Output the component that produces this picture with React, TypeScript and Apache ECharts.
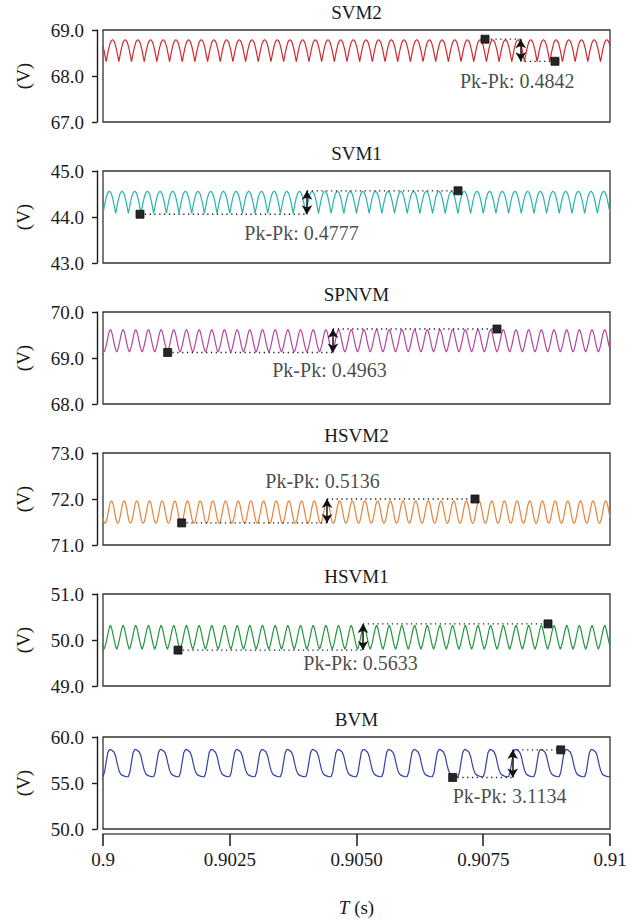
import { useEffect, useRef } from 'react';
import * as echarts from 'echarts';

// ---------- data ----------
const PANEL_TITLES = ['SVM2', 'SVM1', 'SPNVM', 'HSVM2', 'HSVM1', 'BVM'];
const Y_MIN = [67, 43, 68, 71, 49, 50];
const Y_MAX = [69, 45, 70, 73, 51, 60];
const Y_INTERVAL = [1, 1, 1, 1, 1, 5];
const LINE_COLORS = ['#d6282e', '#27b5ae', '#b5479f', '#e8843a', '#24963f', '#3040a6'];

const T_START = 0.9;
const T_END = 0.91;
const X_TICK_VALUES = [0.9, 0.9025, 0.905, 0.9075, 0.91];
const X_TICK_LABELS = ['0.9', '0.9025', '0.9050', '0.9075', '0.91'];

const SVM2_CYCLE = [68.65, 68.55, 68.43, 68.31, 68.43, 68.55, 68.65, 68.73, 68.77, 68.79, 68.77, 68.73];
const SVM1_CYCLE = [44.08, 44.2, 44.32, 44.42, 44.5, 44.54, 44.56, 44.54, 44.5, 44.42, 44.32, 44.2];
const SPNVM_CYCLE = [69.18, 69.13, 69.18, 69.27, 69.375, 69.49, 69.58, 69.62, 69.58, 69.49, 69.375, 69.27];
const HSVM2_CYCLE = [71.59, 71.5, 71.47, 71.5, 71.59, 71.715, 71.84, 71.93, 71.96, 71.93, 71.84, 71.715];
const HSVM1_CYCLE = [49.86, 49.8, 49.86, 49.95, 50.06, 50.17, 50.27, 50.32, 50.27, 50.17, 50.06, 49.95];
const BVM_CYCLE = [55.7, 56.2, 57.3, 58.3, 58.62, 58.62, 58.5, 58.35, 57.9, 57.1, 56.4, 56.0, 55.85, 55.78, 55.72, 55.68];
const CYCLES = [SVM2_CYCLE, SVM1_CYCLE, SPNVM_CYCLE, HSVM2_CYCLE, HSVM1_CYCLE, BVM_CYCLE];
const CYCLE_COUNT = [40, 40, 40, 40, 40, 20];

// Pk-Pk cursors
const PK_LABELS = ['Pk-Pk: 0.4842', 'Pk-Pk: 0.4777', 'Pk-Pk: 0.4963', 'Pk-Pk: 0.5136', 'Pk-Pk: 0.5633', 'Pk-Pk: 3.1134'];
const PK_LOW_T = [0.908915, 0.90073, 0.901276, 0.901552, 0.901479, 0.906897];
const PK_LOW_V = [68.32, 44.06, 69.12, 71.48, 49.78, 55.6];
const PK_HIGH_T = [0.907535, 0.907002, 0.907771, 0.907337, 0.908777, 0.909028];
const PK_HIGH_V = [68.8, 44.57, 69.63, 72.0, 50.35, 58.6];
const PK_ARROW_T = [0.908239, 0.904024, 0.904536, 0.904418, 0.905128, 0.908081];
const PK_TEXT_T = [0.90818, 0.903925, 0.904477, 0.904339, 0.905089, 0.908028];
const PK_TEXT_V = [67.89, 43.65, 68.72, 72.38, 49.49, 53.57];

// ---------- layout ----------
const GRID_LEFT = 103;
const GRID_RIGHT = 25;
const GRID_TOPS = [30, 171, 312, 453, 594, 737];
const GRID_HEIGHT = 92;
const FONT = '"Liberation Serif", "Times New Roman", serif';
const INK = '#1a1a1a';

function buildWave(i: number) {
  const cyc = CYCLES[i];
  const n = cyc.length * CYCLE_COUNT[i];
  const dt = (T_END - T_START) / n;
  const out: number[][] = [];
  for (let j = 0; j <= n; j++) {
    out.push([T_START + j * dt, cyc[j % cyc.length]]);
  }
  return out;
}

export default function App() {
  const ref = useRef<HTMLDivElement>(null);
  useEffect(() => {
    document.body.style.margin = '0';
    if (!ref.current) return;
    const chart = echarts.init(ref.current, null, { renderer: 'svg' });

    const grids: any[] = [];
    const xAxes: any[] = [];
    const yAxes: any[] = [];
    const series: any[] = [];
    const graphics: any[] = [];

    PANEL_TITLES.forEach((title, i) => {
      const last = i === PANEL_TITLES.length - 1;
      grids.push({
        left: GRID_LEFT,
        right: GRID_RIGHT,
        top: GRID_TOPS[i],
        height: GRID_HEIGHT,
        show: true,
        borderColor: '#333',
        borderWidth: 1.3,
        backgroundColor: 'transparent',
      });
      xAxes.push({
        type: 'value',
        gridIndex: i,
        min: T_START,
        max: T_END,
        interval: 0.0025,
        show: last,
        position: 'bottom',
        offset: 5,
        axisLine: { show: true, lineStyle: { color: '#555', width: 1.6 } },
        axisTick: { show: true, inside: false, length: 12, lineStyle: { color: INK, width: 1.5 } },
        splitLine: { show: false },
        axisLabel: {
          show: true,
          margin: 16,
          fontFamily: FONT,
          fontSize: 19,
          color: INK,
          formatter: (v: number) => {
            let best = 0;
            X_TICK_VALUES.forEach((tv, k) => {
              if (Math.abs(tv - v) < Math.abs(X_TICK_VALUES[best] - v)) best = k;
            });
            return X_TICK_LABELS[best];
          },
        },
        name: last ? '{it|T} (s)' : '',
        nameLocation: 'middle',
        nameGap: 64,
        nameTextStyle: {
          fontFamily: FONT,
          fontSize: 19,
          color: INK,
          rich: { it: { fontFamily: FONT, fontSize: 19, fontStyle: 'italic', color: INK } },
        },
      });
      yAxes.push({
        type: 'value',
        gridIndex: i,
        min: Y_MIN[i],
        max: Y_MAX[i],
        interval: Y_INTERVAL[i],
        offset: 6,
        axisLine: { show: true, lineStyle: { color: INK, width: 1.4 } },
        axisTick: { show: true, inside: false, length: 5, lineStyle: { color: INK, width: 1.4 } },
        splitLine: { show: false },
        axisLabel: {
          margin: 13,
          fontFamily: FONT,
          fontSize: 19,
          color: INK,
          formatter: (v: number) => v.toFixed(1),
        },
        name: '(V)',
        nameLocation: 'middle',
        nameGap: 64,
        nameTextStyle: { fontFamily: FONT, fontSize: 19, color: INK },
      });

      series.push({
        type: 'line',
        xAxisIndex: i,
        yAxisIndex: i,
        data: buildWave(i),
        symbol: 'none',
        lineStyle: { color: LINE_COLORS[i], width: 1.2 },
        silent: true,
        z: 2,
        markLine: {
          silent: true,
          symbol: ['arrow', 'arrow'],
          symbolSize: [8, 9],
          label: { show: false },
          lineStyle: { color: '#111', width: 1.5, type: 'solid' },
          data: [[{ coord: [PK_ARROW_T[i], PK_LOW_V[i]] }, { coord: [PK_ARROW_T[i], PK_HIGH_V[i]] }]],
        },
      });
      // dotted cursor lines
      series.push({
        type: 'line',
        xAxisIndex: i,
        yAxisIndex: i,
        data: [[PK_LOW_T[i], PK_LOW_V[i]], [PK_ARROW_T[i], PK_LOW_V[i]]],
        symbol: 'none',
        lineStyle: { color: '#222', width: 1.3, type: [1.3, 3.5] },
        silent: true,
        z: 3,
      });
      series.push({
        type: 'line',
        xAxisIndex: i,
        yAxisIndex: i,
        data: [[PK_ARROW_T[i], PK_HIGH_V[i]], [PK_HIGH_T[i], PK_HIGH_V[i]]],
        symbol: 'none',
        lineStyle: { color: '#222', width: 1.3, type: [1.3, 3.5] },
        silent: true,
        z: 3,
      });
      // cursor markers
      series.push({
        type: 'scatter',
        xAxisIndex: i,
        yAxisIndex: i,
        data: [[PK_LOW_T[i], PK_LOW_V[i]], [PK_HIGH_T[i], PK_HIGH_V[i]]],
        symbol: 'rect',
        symbolSize: 8,
        itemStyle: { color: '#262626', borderColor: '#111', borderWidth: 0.8, opacity: 1 },
        silent: true,
        z: 4,
      });
      // Pk-Pk text
      series.push({
        type: 'scatter',
        xAxisIndex: i,
        yAxisIndex: i,
        data: [[PK_TEXT_T[i], PK_TEXT_V[i]]],
        symbol: 'rect',
        symbolSize: 1,
        itemStyle: { color: 'rgba(255,255,255,0)' },
        label: {
          show: true,
          position: [0, 0],
          align: 'center',
          verticalAlign: 'middle',
          formatter: PK_LABELS[i],
          fontFamily: FONT,
          fontSize: 20,
          color: INK,
          textBorderWidth: 0,
        },
        silent: true,
        z: 5,
      });

      graphics.push({
        type: 'text',
        x: GRID_LEFT + (635 - GRID_LEFT - GRID_RIGHT) / 2,
        y: GRID_TOPS[i] - 18,
        style: {
          text: title,
          font: `19px ${FONT}`,
          fontFamily: FONT,
          fontSize: 19,
          fill: INK,
          align: 'center',
          textAlign: 'center',
          verticalAlign: 'middle',
          textVerticalAlign: 'middle',
        },
      });
    });

    chart.setOption({
      animation: false,
      backgroundColor: '#fff',
      grid: grids,
      xAxis: xAxes,
      yAxis: yAxes,
      series,
      graphic: graphics,
    });
    return () => chart.dispose();
  }, []);
  return <div ref={ref} style={{ width: 635, height: 921 }} />;
}
